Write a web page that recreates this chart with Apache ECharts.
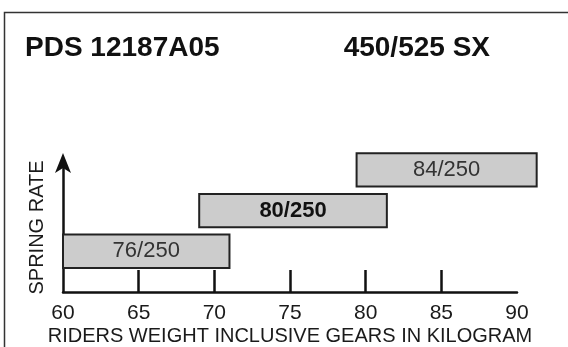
<!DOCTYPE html>
<html>
<head>
<meta charset="utf-8">
<title>PDS 12187A05</title>
<script src="https://cdn.jsdelivr.net/npm/echarts@6/dist/echarts.min.js"></script>
<style>
  html, body { margin: 0; padding: 0; background: #fff; }
  #chart { width: 568px; height: 347px; }
</style>
</head>
<body>
<div id="chart"></div>
<script>
// spring rate ranges (kg, rider incl. gear)
const rateLabels = ['76/250', '80/250', '84/250'];
const startKg = [60, 69, 79.4];
const endKg = [71, 81.4, 91.3];
const rowLevel = [1, 2, 3];
const recommended = '80/250';

const tickValues = [65, 70, 75, 80, 85];
const labelValues = [60, 65, 70, 75, 80, 85, 90];

const FONT = '"Liberation Sans", Arial, sans-serif';
const chart = echarts.init(document.getElementById('chart'));

const seriesData = rateLabels.map((lbl, i) => [startKg[i], endKg[i], rowLevel[i], lbl]);

chart.setOption({
  animation: false,
  backgroundColor: '#fff',
  title: [
    {
      text: 'PDS 12187A05', left: 25, top: 34, padding: 0,
      textStyle: { fontFamily: FONT, fontSize: 28, fontWeight: 'bold', color: '#111' }
    },
    {
      text: '450/525 SX', right: 78, top: 34, padding: 0,
      textStyle: { fontFamily: FONT, fontSize: 28, fontWeight: 'bold', color: '#111' }
    }
  ],
  graphic: [
    {
      type: 'rect',
      shape: { x: 4.5, y: 12.5, width: 700, height: 500 },
      style: { fill: 'none', stroke: '#333', lineWidth: 1.5 },
      silent: true
    }
  ],
  grid: { left: 63, right: 51, top: 163, bottom: 52 },
  xAxis: {
    type: 'value',
    min: 60,
    max: 90,
    name: 'RIDERS WEIGHT INCLUSIVE GEARS IN KILOGRAM',
    nameLocation: 'middle',
    nameGap: 34,
    nameTextStyle: { fontFamily: FONT, fontSize: 20, color: '#1a1a1a' },
    axisLine: { lineStyle: { color: '#111', width: 2.5 } },
    axisTick: {
      inside: true, length: 22, customValues: tickValues,
      lineStyle: { color: '#111', width: 2.5 }
    },
    axisLabel: {
      customValues: labelValues, margin: 11,
      fontFamily: FONT, fontSize: 21, color: '#1a1a1a'
    },
    splitLine: { show: false }
  },
  yAxis: {
    type: 'value',
    min: 0,
    max: 3.17,
    name: 'SPRING RATE',
    nameLocation: 'middle',
    nameGap: 16,
    nameTextStyle: { fontFamily: FONT, fontSize: 20, color: '#1a1a1a' },
    axisLine: {
      show: true,
      symbol: ['none', 'arrow'],
      symbolSize: [12, 20],
      symbolOffset: [0, 10],
      lineStyle: { color: '#111', width: 2.5 }
    },
    axisTick: { show: false },
    axisLabel: { show: false },
    splitLine: { show: false }
  },
  series: [
    {
      type: 'custom',
      clip: false,
      data: seriesData,
      renderItem(params, api) {
        const p0 = api.coord([api.value(0), api.value(2)]);
        const p1 = api.coord([api.value(1), api.value(2)]);
        const h = api.size([0, 0.82])[1];
        const lbl = seriesData[params.dataIndex][3];
        const bold = lbl === recommended;
        return {
          type: 'group',
          children: [
            {
              type: 'rect',
              shape: { x: p0[0], y: p0[1] - h / 2, width: p1[0] - p0[0], height: h },
              style: { fill: '#cccccc', stroke: '#222', lineWidth: 2 }
            },
            {
              type: 'text',
              x: (p0[0] + p1[0]) / 2,
              y: p0[1],
              style: {
                text: lbl,
                align: 'center',
                verticalAlign: 'middle',
                font: (bold ? 'bold ' : '') + '22px ' + FONT,
                fill: bold ? '#111' : '#333'
              }
            }
          ]
        };
      }
    }
  ]
});
</script>
</body>
</html>
